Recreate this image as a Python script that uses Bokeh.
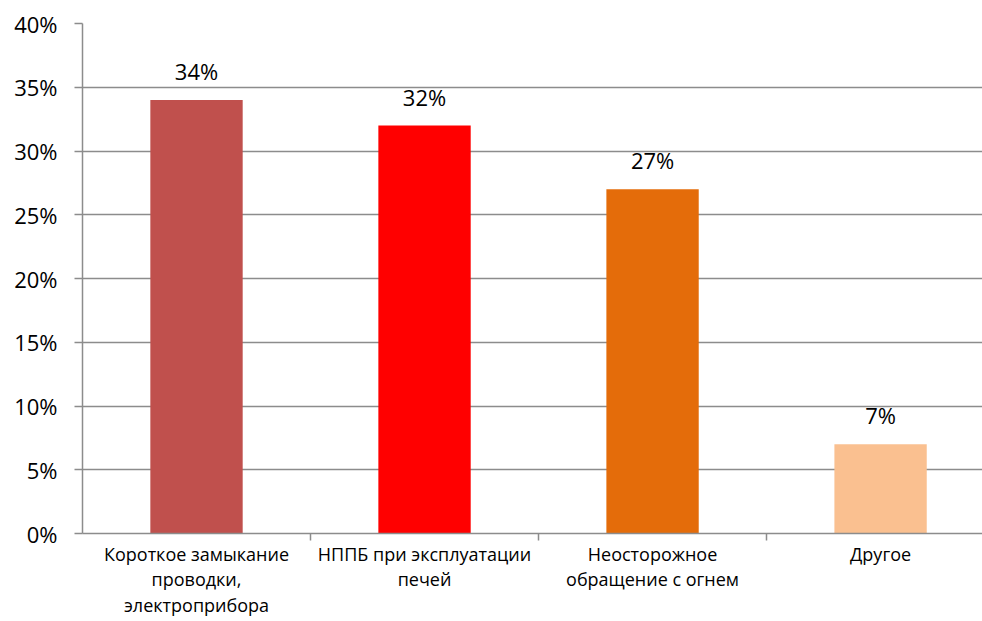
from bokeh.plotting import figure
from bokeh.models import FixedTicker, Range1d, ColumnDataSource
from bokeh.core.properties import value
from bokeh.embed import file_html
from bokeh.resources import INLINE

categories = ["Короткое замыкание\nпроводки,\nэлектроприбора",
              "НППБ при эксплуатации\nпечей",
              "Неосторожное\nобращение с огнем",
              "Другое"]
values = [34, 32, 27, 7]
labels = ["34%", "32%", "27%", "7%"]
colors = ["#C0504D", "#FF0000", "#E46C0A", "#FAC090"]
y_ticks = [0, 5, 10, 15, 20, 25, 30, 35, 40]
y_tick_labels = ["0%", "5%", "10%", "15%", "20%", "25%", "30%", "35%", "40%"]

FONT = "Open Sans"
GRAY = "#8c8c8c"

xs = [i + 0.5 for i in range(len(categories))]
src = ColumnDataSource(dict(x=xs, top=values, color=colors, label=labels))

p = figure(width=982, height=621, output_backend="svg", toolbar_location=None,
           x_range=Range1d(0, 3.947), y_range=Range1d(0, 40),
           min_border_left=82, min_border_right=0, min_border_top=23, min_border_bottom=88)
p.outline_line_color = None
p.background_fill_color = "white"
p.border_fill_color = "white"

p.vbar(x="x", top="top", bottom=0, width=0.405, color="color", line_color=None, source=src)
p.text(x="x", y="top", text="label", source=src, text_align="center",
       text_baseline="alphabetic", y_offset=-29, text_font=value(FONT),
       text_font_size="22px", text_color="#000000")

# y axis
p.yaxis.ticker = FixedTicker(ticks=y_ticks)
p.yaxis.major_label_overrides = {t: l for t, l in zip(y_ticks, y_tick_labels)}
p.yaxis.major_label_text_font = FONT
p.yaxis.major_label_text_font_size = "22px"
p.yaxis.major_label_text_color = "#000000"
p.yaxis.major_label_standoff = 17
p.yaxis.axis_line_color = GRAY
p.yaxis.axis_line_width = 1.5
p.yaxis.major_tick_line_color = GRAY
p.yaxis.major_tick_line_width = 1.5
p.yaxis.major_tick_out = 8
p.yaxis.major_tick_in = 0
p.yaxis.minor_tick_line_color = None

# x axis: labels at category centres, ticks at boundaries
p.xaxis.ticker = FixedTicker(ticks=xs, minor_ticks=[1, 2, 3])
p.xaxis.major_label_overrides = {x: c for x, c in zip(xs, categories)}
p.xaxis.major_label_text_font = FONT
p.xaxis.major_label_text_font_size = "18px"
p.xaxis.major_label_text_color = "#000000"
p.xaxis.major_label_text_line_height = 1.08
p.xaxis.major_label_standoff = 1
p.xaxis.major_tick_line_color = None
p.xaxis.major_tick_out = 0
p.xaxis.major_tick_in = 0
p.xaxis.minor_tick_line_color = GRAY
p.xaxis.minor_tick_line_width = 1.5
p.xaxis.minor_tick_out = 7
p.xaxis.minor_tick_in = 0
p.xaxis.axis_line_color = GRAY
p.xaxis.axis_line_width = 1.5

p.xgrid.grid_line_color = None
p.ygrid.grid_line_color = GRAY
p.ygrid.grid_line_width = 1.5

open("out.html", "w").write(file_html(p, INLINE))
